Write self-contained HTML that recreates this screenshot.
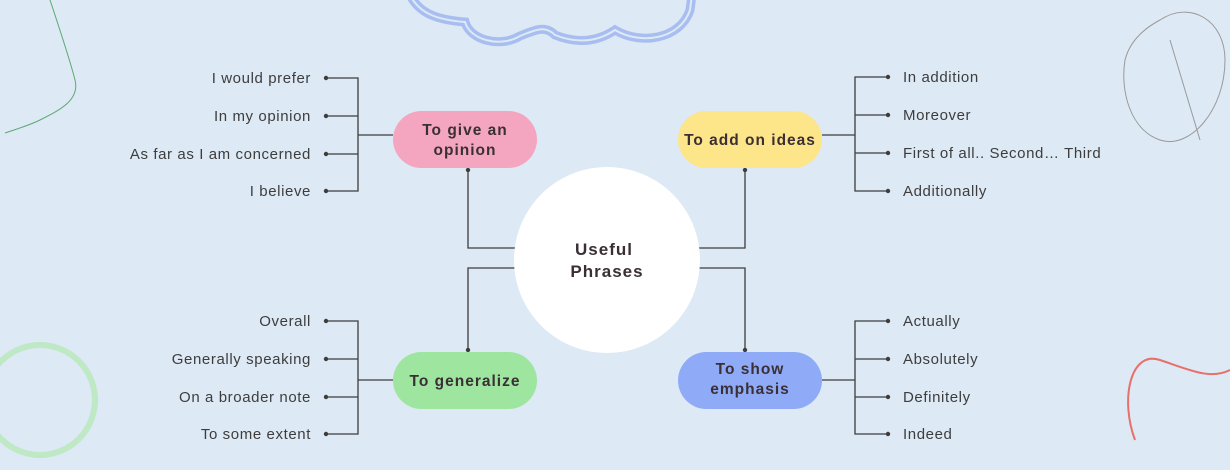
<!DOCTYPE html>
<html><head><style>
body{margin:0;background:#dde9f4;}
svg{display:block}
text{font-family:"Liberation Sans",sans-serif;}
.l{font-size:15px;fill:#3d3d3d;letter-spacing:0.6px}
.b{font-size:15.5px;font-weight:bold;fill:#3a2f35;letter-spacing:1px}
</style></head><body>
<svg width="1230" height="470" viewBox="0 0 1230 470">
<rect width="1230" height="470" fill="#dde9f4"/>
<!-- cloud -->
<path d="M410 -5 C420 15 440 20 465 22 C470 40 500 48 520 36 C535 30 545 25 555 35 C580 45 600 40 615 30 C640 45 680 40 690 10 L692 -5" fill="none" stroke="#a8bdf0" stroke-width="9"/>
<path d="M410 -5 C420 15 440 20 465 22 C470 40 500 48 520 36 C535 30 545 25 555 35 C580 45 600 40 615 30 C640 45 680 40 690 10 L692 -5" fill="none" stroke="#dde9f4" stroke-width="2"/>
<!-- decorations -->
<path d="M50 0 C60 30 70 60 75 80 C80 100 60 110 40 120 C30 125 20 128 5 133" fill="none" stroke="#5aaa70" stroke-width="1"/>
<path d="M1135 440 C1120 400 1130 350 1160 360 C1190 370 1210 380 1230 370" fill="none" stroke="#e8706a" stroke-width="2"/>
<circle cx="40" cy="400" r="55" fill="none" stroke="#bfe8c4" stroke-width="6"/>
<path d="M1160 20 C1190 0 1225 20 1225 60 C1225 110 1190 150 1160 140 C1130 130 1120 90 1125 60 C1130 40 1145 28 1160 20 Z M1170 40 L1200 140" fill="none" stroke="#999" stroke-width="1"/>
<!-- connectors -->
<g stroke="#3d3d3d" stroke-width="1.3" fill="none">
<path d="M326 78H358V191H326M326 116H358M326 154H358M358 135H393"/>
<path d="M326 321H358V434H326M326 359H358M326 397H358M358 380H393"/>
<path d="M888 77H855V191H888M888 115H855M888 153H855M855 135H822"/>
<path d="M888 321H855V434H888M888 359H855M888 397H855M855 380H822"/>
<path d="M468 168V248H515M468 352V268H515M745 168V248H699M745 352V268H699"/>
</g>
<g fill="#3d3d3d">
<circle cx="326" cy="78" r="2.2"/><circle cx="326" cy="116" r="2.2"/><circle cx="326" cy="154" r="2.2"/><circle cx="326" cy="191" r="2.2"/>
<circle cx="326" cy="321" r="2.2"/><circle cx="326" cy="359" r="2.2"/><circle cx="326" cy="397" r="2.2"/><circle cx="326" cy="434" r="2.2"/>
<circle cx="888" cy="77" r="2.2"/><circle cx="888" cy="115" r="2.2"/><circle cx="888" cy="153" r="2.2"/><circle cx="888" cy="191" r="2.2"/>
<circle cx="888" cy="321" r="2.2"/><circle cx="888" cy="359" r="2.2"/><circle cx="888" cy="397" r="2.2"/><circle cx="888" cy="434" r="2.2"/>
<circle cx="468" cy="170" r="2.2"/><circle cx="468" cy="350" r="2.2"/><circle cx="745" cy="170" r="2.2"/><circle cx="745" cy="350" r="2.2"/>
</g>
<!-- nodes -->
<rect x="393" y="111" width="144" height="57" rx="28.5" fill="#f4a6c0"/>
<rect x="678" y="111" width="144" height="57" rx="28.5" fill="#fde58a"/>
<rect x="393" y="352" width="144" height="57" rx="28.5" fill="#9ee6a0"/>
<rect x="678" y="352" width="144" height="57" rx="28.5" fill="#8fabf7"/>
<circle cx="607" cy="260" r="93" fill="#fff"/>
<g text-anchor="middle" class="b">
<text class="b" x="465" y="135">To give an</text><text class="b" x="465" y="155">opinion</text>
<text class="b" x="750" y="145">To add on ideas</text>
<text class="b" x="465" y="386">To generalize</text>
<text class="b" x="750" y="374">To show</text><text class="b" x="750" y="394">emphasis</text>
<text class="b" x="604" y="255" style="font-size:17px">Useful</text><text class="b" x="607" y="277" style="font-size:17px">Phrases</text>
</g>
<g text-anchor="end" class="l">
<text class="l" x="311" y="83">I would prefer</text>
<text class="l" x="311" y="121">In my opinion</text>
<text class="l" x="311" y="159">As far as I am concerned</text>
<text class="l" x="311" y="196">I believe</text>
<text class="l" x="311" y="326">Overall</text>
<text class="l" x="311" y="364">Generally speaking</text>
<text class="l" x="311" y="402">On a broader note</text>
<text class="l" x="311" y="439">To some extent</text>
</g>
<g class="l">
<text class="l" x="903" y="82">In addition</text>
<text class="l" x="903" y="120">Moreover</text>
<text class="l" x="903" y="158">First of all.. Second… Third</text>
<text class="l" x="903" y="196">Additionally</text>
<text class="l" x="903" y="326">Actually</text>
<text class="l" x="903" y="364">Absolutely</text>
<text class="l" x="903" y="402">Definitely</text>
<text class="l" x="903" y="439">Indeed</text>
</g>
</svg>
</body></html>
